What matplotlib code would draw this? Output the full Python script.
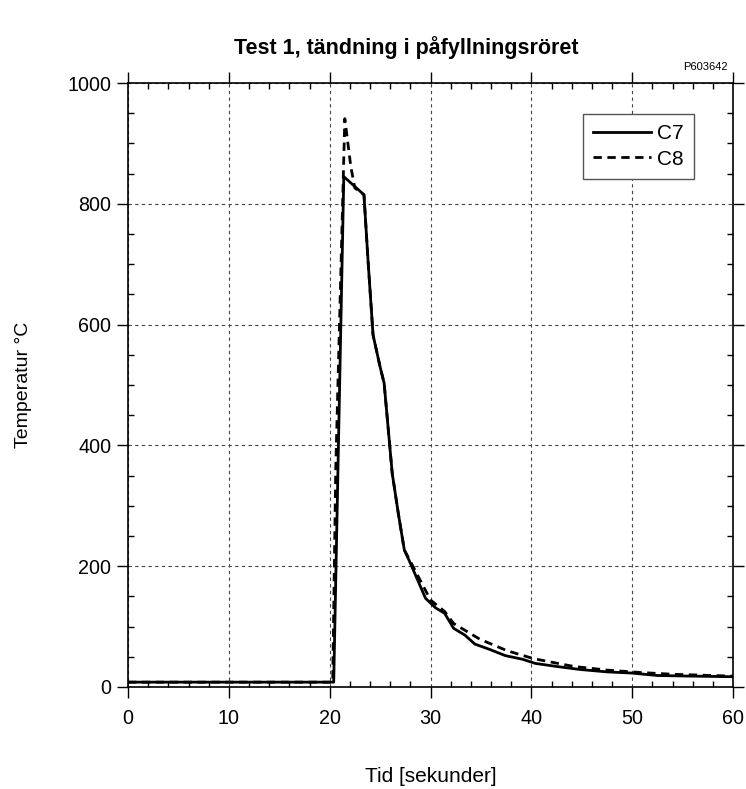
import numpy as np
import matplotlib
matplotlib.use("Agg")
import matplotlib.pyplot as plt
from matplotlib.ticker import MultipleLocator

plt.rcParams["font.family"] = ["Liberation Sans", "DejaVu Sans"]

# C7 thermocouple (solid)
t_c7 = [0, 20.4, 21.4, 23.4, 23.8, 24.3, 25.0, 25.4, 26.2, 26.8, 27.4, 28.0, 29.5, 30.5,
        31.4, 32.3, 32.9, 33.4, 34.4, 35.9, 37.4, 39.1, 40.4, 42.5, 44.8, 47.5, 50.0,
        52.5, 55.8, 60.0]
v_c7 = [8, 8, 845, 815, 707, 583, 530, 503, 354, 288, 227, 205, 147, 131,
        122, 97, 91, 86, 71, 62, 52, 46, 39, 34, 29, 25, 23,
        19, 18, 17]

# C8 thermocouple (dashed)
t_c8 = [0, 20.3, 20.6, 21.5, 22.1, 22.5, 23.4, 23.8, 24.3, 25.0, 25.4, 26.2, 26.8, 27.4,
        28.0, 30.0, 31.4, 32.3, 33.6, 34.9, 37.6, 40.2, 44.2, 47.5, 50.8, 54.1, 60.0]
v_c8 = [8, 8, 360, 941, 861, 826, 815, 707, 583, 530, 503, 354, 288, 227,
        208, 144, 125, 105, 92, 79, 60, 47, 34, 28, 24, 21, 18]

fig = plt.figure(figsize=(7.46, 7.89), dpi=100)
ax = fig.add_axes([0.1716, 0.1293, 0.811, 0.7655])

ax.plot(t_c7, v_c7, color="black", lw=2, label="C7")
ax.plot(t_c8, v_c8, color="black", lw=2, ls=(0, (3, 2)), label="C8")

ax.set_xlim(0, 60)
ax.set_ylim(0, 1000)
ax.xaxis.set_major_locator(MultipleLocator(10))
ax.xaxis.set_minor_locator(MultipleLocator(2))
ax.yaxis.set_major_locator(MultipleLocator(200))
ax.yaxis.set_minor_locator(MultipleLocator(50))
ax.tick_params(which="major", direction="out", length=8, width=1,
               top=True, right=True, labelsize=14.2)
ax.tick_params(axis="x", which="major", pad=8)
ax.tick_params(axis="y", which="major", pad=4)
ax.tick_params(which="minor", direction="in", length=4.5, width=1, top=True, right=True)
ax.grid(True, which="major", ls=(0, (3, 3)), color="#444444", lw=0.8)
for s in ax.spines.values():
    s.set_linewidth(1.2)

ax.set_xlabel("Tid [sekunder]", fontsize=15, va="center")
ax.xaxis.set_label_coords(0.5, -0.1475)
ax.set_ylabel("Temperatur °C", fontsize=14, va="center")
ax.yaxis.set_label_coords(-0.173, 0.5)
fig.suptitle("Test 1, tändning i påfyllningsröret", fontsize=15.5, fontweight="bold",
             x=0.544, y=0.940, va="center")
fig.text(0.976, 0.909, "P603642", fontsize=8, ha="right", va="bottom")

leg = ax.legend(loc="upper right", bbox_to_anchor=(0.9355, 0.9487), borderaxespad=0,
                fontsize=15, handlelength=2.8, handletextpad=0.27, fancybox=False,
                framealpha=1, borderpad=0.5, labelspacing=0.3)
leg.get_frame().set_edgecolor("#555555")
leg.get_frame().set_linewidth(1)

fig.savefig("out.png", dpi=100, facecolor="white")
